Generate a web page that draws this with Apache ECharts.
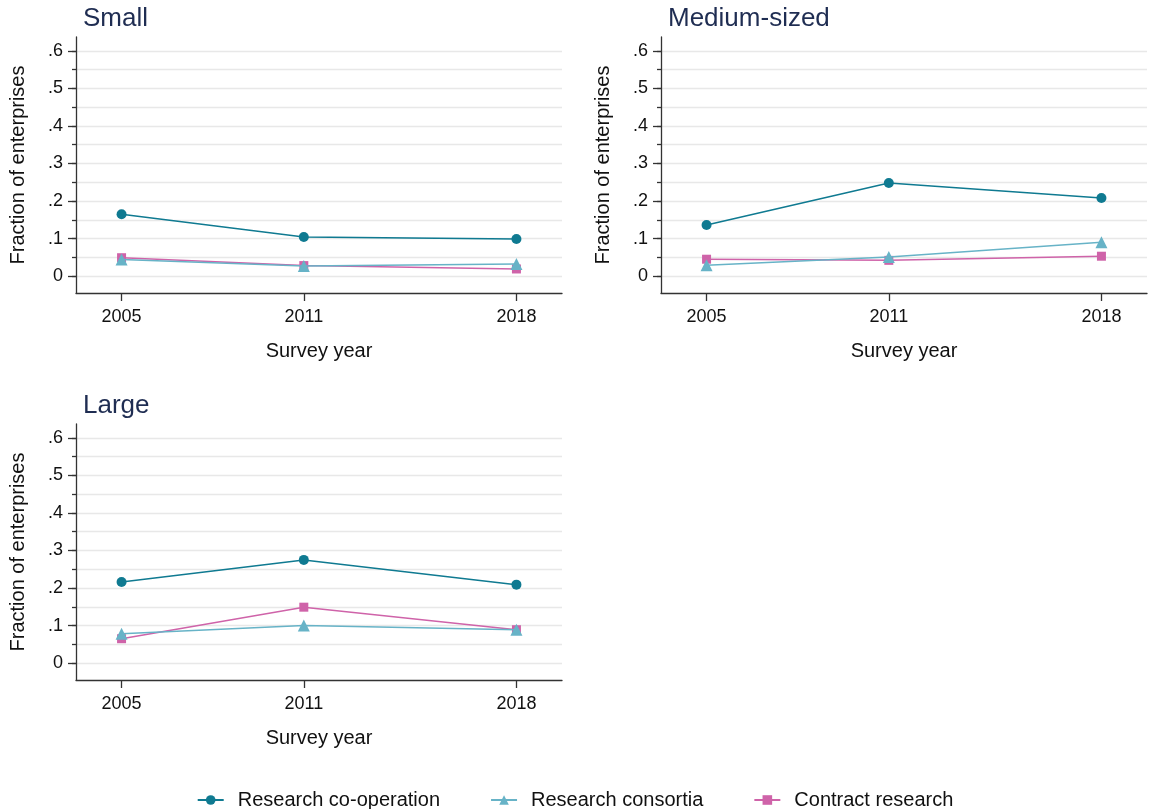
<!DOCTYPE html>
<html><head><meta charset="utf-8">
<script src="https://cdn.jsdelivr.net/npm/echarts@6/dist/echarts.min.js"></script>
<style>html,body{margin:0;padding:0;background:#fff}#c{width:1150px;height:809px}</style>
</head><body><div id="c"></div>
<script>
const years = [2005, 2011, 2018];
const panels = ['Small', 'Medium-sized', 'Large'];
const seriesNames = ['Research co-operation', 'Research consortia', 'Contract research'];
// values per panel: [co-operation, consortia, contract]
const smallCoop = [0.165, 0.104, 0.099];
const smallConsortia = [0.044, 0.027, 0.032];
const smallContract = [0.049, 0.028, 0.019];
const mediumCoop = [0.136, 0.248, 0.208];
const mediumConsortia = [0.029, 0.051, 0.090];
const mediumContract = [0.045, 0.042, 0.053];
const largeCoop = [0.216, 0.275, 0.209];
const largeConsortia = [0.078, 0.100, 0.089];
const largeContract = [0.065, 0.149, 0.089];
const yLabelTicks = [0, 0.1, 0.2, 0.3, 0.4, 0.5, 0.6];
const yMinorTicks = [0, 0.05, 0.1, 0.15, 0.2, 0.25, 0.3, 0.35, 0.4, 0.45, 0.5, 0.55, 0.6];
const yTickLabels = ['0', '.1', '.2', '.3', '.4', '.5', '.6'];

const panelData = [
  [smallCoop, smallConsortia, smallContract],
  [mediumCoop, mediumConsortia, mediumContract],
  [largeCoop, largeConsortia, largeContract]
];
const colors = ['#0f7a91', '#67b3c7', '#cf63a9'];
const symbols = ['circle', 'triangle', 'rect'];
const symSizes = [10, 12, 9];
const FONT = '"Liberation Sans", Arial, sans-serif';

const grids = [
  {left: 76, top: 37, width: 486, height: 256},
  {left: 661, top: 37, width: 486, height: 256},
  {left: 76, top: 424, width: 486, height: 256}
];
const yMin = -0.045, yMax = 0.637;

const option = {
  animation: false,
  textStyle: {fontFamily: FONT},
  title: panels.map((p, i) => ({
    text: p,
    left: grids[i].left + 2,
    top: grids[i].top - 36,
    textStyle: {fontSize: 26, fontWeight: 'normal', color: '#1f2d52', fontFamily: FONT}
  })),
  grid: grids.map(g => Object.assign({containLabel: false}, g)),
  legend: {
    top: 785,
    left: 'center',
    itemGap: 50,
    itemWidth: 26,
    itemHeight: 12,
    textStyle: {fontSize: 20, color: '#111', fontFamily: FONT, padding: [0, 0, 0, 9]},
    data: seriesNames
  },
  xAxis: [],
  yAxis: [],
  series: []
};

grids.forEach((g, i) => {
  option.xAxis.push({
    type: 'value', gridIndex: i, min: 2003.5, max: 2019.5, position: 'bottom',
    name: 'Survey year', nameLocation: 'middle', nameGap: 48,
    nameTextStyle: {fontSize: 20, color: '#111', fontFamily: FONT},
    axisLine: {show: true, onZero: false, lineStyle: {color: '#333', width: 1.3}},
    axisTick: {show: true, length: 8, customValues: years, lineStyle: {color: '#333', width: 1.3}},
    axisLabel: {customValues: years, fontSize: 18, color: '#111', margin: 15, fontFamily: FONT, formatter: v => String(v)},
    splitLine: {show: false}
  });
  // main y axis: minor ticks + grid lines
  option.yAxis.push({
    type: 'value', gridIndex: i, min: yMin, max: yMax, position: 'left',
    name: 'Fraction of enterprises', nameLocation: 'middle', nameGap: 48,
    nameTextStyle: {fontSize: 20, color: '#111', fontFamily: FONT},
    axisLine: {show: true, onZero: false, lineStyle: {color: '#333', width: 1.3}},
    axisTick: {show: true, length: 4, customValues: yMinorTicks, lineStyle: {color: '#333', width: 1.3}},
    axisLabel: {show: false},
    splitLine: {show: true, lineStyle: {color: '#e8e8e8', width: 1.3}}
  });
  // label y axis: major ticks + labels
  option.yAxis.push({
    type: 'value', gridIndex: i, min: yMin, max: yMax, position: 'left', offset: 0,
    axisLine: {show: false, onZero: false},
    axisTick: {show: true, length: 8, customValues: yLabelTicks, lineStyle: {color: '#333', width: 1.3}},
    axisLabel: {show: true, customValues: yLabelTicks, fontSize: 18, color: '#111', margin: 13, fontFamily: FONT,
      formatter: v => yTickLabels[yLabelTicks.indexOf(Math.round(v * 10) / 10)]},
    splitLine: {show: false}
  });
  panelData[i].forEach((vals, k) => {
    option.series.push({
      type: 'line', name: seriesNames[k], xAxisIndex: i, yAxisIndex: i * 2,
      data: years.map((y, j) => [y, vals[j]]),
      symbol: symbols[k], symbolSize: symSizes[k], showSymbol: true,
      itemStyle: {color: colors[k]},
      lineStyle: {color: colors[k], width: 1.5},
      z: 10 - k
    });
  });
});

const chart = echarts.init(document.getElementById('c'), null, {renderer: 'canvas'});
chart.setOption(option);
</script></body></html>
